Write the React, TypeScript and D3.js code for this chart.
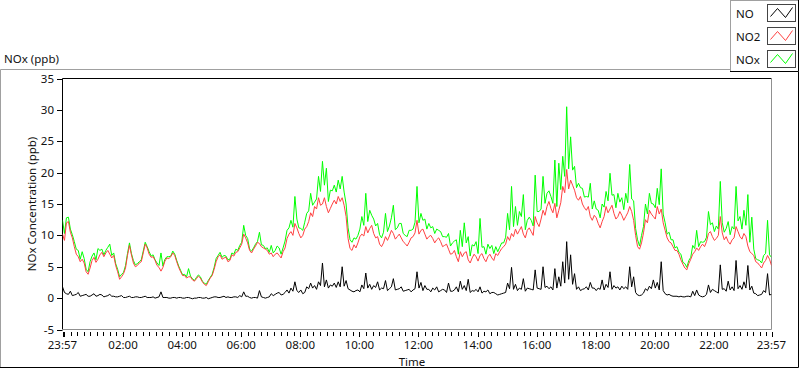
import * as d3 from 'd3';

// sampled every 4 minutes starting 23:57
const no2 = [
  10.2, 9.2, 12.0, 12.2, 10.5, 9.6, 8.2, 7.0, 6.6, 5.8,
  6.2, 5.6, 4.2, 3.8, 4.8, 6.0, 6.5, 5.7, 6.2, 6.9,
  7.3, 6.6, 7.2, 7.6, 7.0, 6.4, 6.8, 5.2, 4.2, 3.0,
  3.4, 3.9, 4.8, 6.8, 8.4, 6.9, 5.6, 5.0, 5.2, 5.6,
  5.8, 7.2, 8.6, 8.0, 7.0, 6.5, 6.6, 6.0, 5.2, 4.9,
  4.3, 4.9, 5.9, 6.4, 6.3, 6.6, 7.2, 6.8, 5.8, 4.9,
  4.2, 3.6, 3.6, 3.2, 3.4, 3.4, 2.9, 2.7, 3.1, 3.5,
  3.2, 2.6, 2.2, 2.0, 2.6, 3.2, 3.6, 4.6, 5.8, 6.6,
  6.9, 6.2, 6.4, 6.5, 5.8, 6.0, 6.9, 6.7, 7.3, 7.4,
  8.0, 8.6, 10.2, 9.6, 8.8, 7.6, 7.2, 7.8, 8.3, 8.9,
  8.7, 8.2, 8.0, 7.8, 7.6, 7.0, 7.2, 6.6, 7.0, 7.2,
  6.8, 6.4, 7.4, 8.0, 9.5, 10.2, 10.6, 10.0, 11.9, 11.2,
  10.3, 9.6, 10.0, 11.0, 11.4, 12.2, 13.6, 13.0, 14.6, 14.2,
  16.0, 14.8, 15.0, 16.0, 14.6, 13.6, 14.3, 15.0, 15.6, 15.0,
  16.2, 15.4, 16.0, 14.8, 13.0, 9.5, 7.9, 7.6, 8.5, 8.0,
  8.8, 9.8, 10.2, 9.9, 11.4, 10.4, 11.1, 11.6, 10.3, 9.6,
  9.8, 8.6, 8.2, 8.8, 9.8, 9.2, 9.9, 10.8, 10.3, 9.4,
  9.8, 10.2, 9.6, 9.0, 8.7, 8.3, 8.9, 9.6, 9.8, 10.4,
  12.4, 10.2, 10.8, 11.0, 10.2, 9.4, 9.8, 10.0, 9.5, 8.8,
  9.3, 9.6, 9.0, 8.2, 8.4, 8.6, 7.8, 7.0, 7.1, 7.6,
  6.6, 5.8, 7.4, 6.6, 7.2, 7.4, 6.1, 5.6, 6.4, 7.0,
  6.6, 5.9, 6.8, 7.1, 6.3, 5.8, 6.6, 7.0, 6.4, 6.0,
  7.1, 6.8, 7.4, 7.9, 8.2, 8.6, 9.8, 9.2, 10.3, 9.8,
  11.0, 10.2, 10.8, 11.4, 10.2, 9.6, 10.8, 11.2, 10.6, 10.0,
  13.0, 12.0, 11.4, 12.6, 14.0, 13.2, 14.6, 15.4, 14.3, 13.6,
  15.1, 12.8, 14.0, 15.2, 17.8, 16.8, 20.5, 17.4, 18.8, 18.0,
  17.2, 16.0, 15.6, 16.2, 15.0, 14.4, 14.0, 14.6, 13.0, 12.4,
  13.2, 12.8, 11.9, 11.2, 12.2, 13.0, 14.6, 13.6, 14.2, 14.8,
  13.5, 12.6, 13.0, 13.8, 13.2, 12.4, 13.0, 13.6, 14.6, 13.8,
  12.4, 10.0, 8.2, 7.8, 8.8, 10.4, 12.5, 12.0, 14.0, 13.4,
  13.0, 12.6, 14.6, 13.4, 14.2, 12.0, 10.8, 9.6, 9.0, 8.8,
  8.2, 7.6, 7.6, 7.0, 6.1, 5.4, 4.8, 4.5, 5.5, 6.2,
  7.0, 7.4, 8.0, 7.6, 8.2, 8.6, 8.2, 9.0, 10.3, 10.6,
  9.8, 9.2, 9.5, 10.0, 13.0, 10.4, 9.3, 9.8, 9.0, 8.6,
  9.3, 9.6, 11.4, 10.6, 9.8, 9.4, 10.3, 9.8, 8.3, 7.4,
  7.1, 6.8, 5.8, 5.6, 5.2, 4.8, 5.6, 6.0, 6.8, 6.2,
  5.2,
];

const nox = [
  12.4, 10.3, 12.8, 12.9, 11.0, 10.1, 9.0, 7.8, 7.6, 6.2,
  7.4, 6.3, 4.6, 4.2, 5.8, 6.7, 7.2, 6.1, 7.9, 7.6,
  7.8, 6.9, 7.6, 8.1, 8.6, 6.8, 7.2, 5.5, 4.6, 3.4,
  3.8, 4.1, 5.2, 7.1, 8.8, 7.1, 6.0, 5.3, 5.5, 5.8,
  6.1, 7.5, 8.9, 8.2, 7.4, 6.7, 6.9, 6.1, 5.6, 5.2,
  7.2, 5.1, 6.2, 6.6, 6.6, 6.7, 7.5, 7.0, 6.0, 5.1,
  4.4, 3.7, 3.8, 3.4, 4.7, 3.5, 3.1, 2.8, 3.3, 3.7,
  3.4, 2.7, 2.4, 2.2, 2.8, 3.3, 3.8, 4.9, 6.3, 6.8,
  7.3, 6.5, 6.8, 6.7, 6.1, 6.2, 7.2, 7.0, 7.8, 7.6,
  8.4, 8.9, 11.6, 10.0, 9.5, 7.8, 7.5, 8.0, 8.6, 9.0,
  10.5, 8.5, 8.4, 7.9, 8.0, 7.3, 8.4, 7.2, 7.6, 8.3,
  8.0, 7.0, 8.0, 9.1, 10.8, 11.2, 12.4, 11.3, 16.2, 12.6,
  11.2, 11.1, 10.8, 12.1, 13.5, 13.9, 16.7, 14.8, 15.3, 15.8,
  19.4, 17.0, 21.8, 18.0, 20.7, 15.4, 17.2, 17.1, 18.0, 16.9,
  18.8, 17.4, 19.4, 16.9, 15.0, 11.2, 9.3, 8.9, 9.6, 9.4,
  10.0, 11.0, 13.0, 11.6, 16.7, 12.2, 14.0, 13.2, 12.6, 11.5,
  11.9, 10.1, 9.6, 10.5, 13.5, 10.6, 11.5, 12.8, 14.8, 10.9,
  11.2, 11.9, 11.9, 10.3, 10.0, 9.8, 10.8, 10.8, 11.0, 12.1,
  17.8, 12.0, 13.5, 12.4, 12.6, 11.0, 11.9, 11.2, 11.4, 10.3,
  11.0, 10.8, 10.6, 9.8, 9.8, 9.7, 10.3, 8.3, 8.8, 9.1,
  9.3, 7.0, 10.8, 8.2, 12.0, 8.8, 9.8, 6.7, 8.5, 8.3,
  9.0, 7.1, 12.7, 8.1, 8.2, 7.0, 8.6, 7.9, 8.4, 7.1,
  8.2, 7.4, 8.1, 8.8, 8.8, 9.7, 13.5, 10.9, 17.8, 11.4,
  14.6, 11.6, 13.8, 13.0, 16.5, 10.9, 12.4, 12.9, 12.4, 11.5,
  19.6, 13.8, 13.8, 14.2, 19.4, 15.1, 16.7, 17.1, 16.2, 15.1,
  22.0, 14.6, 21.5, 17.3, 22.6, 19.4, 30.5, 20.6, 25.7, 20.4,
  21.0, 17.6, 18.3, 17.6, 17.5, 16.1, 16.2, 16.1, 18.3, 14.2,
  15.5, 14.2, 14.0, 12.8, 15.0, 14.5, 17.0, 15.5, 19.9, 16.4,
  16.5, 14.4, 16.7, 15.3, 16.0, 14.1, 16.7, 15.2, 21.3, 15.8,
  15.5, 11.1, 9.3, 8.3, 10.0, 11.4, 15.0, 13.4, 16.7, 15.1,
  15.0, 14.4, 17.5, 14.9, 20.6, 13.4, 12.0, 10.2, 10.5, 9.3,
  9.3, 8.0, 8.2, 7.3, 7.0, 5.7, 5.5, 4.9, 6.0, 6.5,
  8.4, 7.9, 10.8, 8.2, 9.0, 8.9, 9.0, 9.7, 13.8, 11.7,
  12.0, 10.6, 11.5, 11.0, 18.6, 12.0, 10.5, 11.1, 12.2, 10.1,
  11.4, 11.0, 17.8, 12.3, 13.0, 11.0, 14.0, 11.6, 16.5, 8.9,
  12.9, 7.8, 6.3, 6.1, 6.0, 5.6, 6.8, 7.1, 12.4, 6.9,
  6.5,
];

const no = [
  1.8, 0.9, 0.7, 0.6, 1.1, 0.4, 0.5, 0.6, 0.9, 0.3,
  0.4, 0.5, 0.6, 0.3, 0.3, 0.5, 0.7, 0.3, 0.4, 0.6,
  0.5, 0.2, 0.3, 0.4, 0.6, 0.3, 0.3, 0.2, 0.2, 0.3,
  0.4, 0.1, 0.1, 0.2, 0.3, 0.1, 0.1, 0.2, 0.2, 0.1,
  0.1, 0.2, 0.3, 0.1, 0.1, 0.1, 0.2, 0.0, 0.1, 0.2,
  1.0, 0.1, 0.1, 0.1, 0.0, 0.0, 0.1, 0.1, 0.0, 0.1,
  0.1, 0.0, 0.0, 0.1, 0.1, 0.0, -0.1, 0.0, 0.0, 0.1,
  0.1, 0.0, 0.0, 0.1, -0.1, 0.0, 0.1, 0.2, 0.2, 0.1,
  0.1, 0.2, 0.3, 0.1, 0.2, 0.1, 0.1, 0.2, 0.2, 0.1,
  0.4, 0.2, 1.0, 0.3, 0.3, 0.1, 0.0, 0.1, 0.1, 0.0,
  1.2, 0.2, 0.1, 0.0, 0.1, 0.2, 0.7, 0.4, 0.6, 0.8,
  0.9, 0.5, 0.6, 0.9, 1.3, 0.8, 1.6, 1.1, 2.6, 1.2,
  0.9, 1.3, 0.7, 0.9, 1.8, 1.5, 2.4, 1.6, 2.0, 1.4,
  2.6, 2.0, 5.6, 1.8, 2.9, 1.6, 2.1, 1.9, 2.4, 1.7,
  2.6, 1.8, 5.0, 1.9, 2.8, 1.5, 1.3, 1.1, 1.0, 1.2,
  1.3, 1.0, 2.1, 1.5, 4.0, 1.6, 2.2, 1.4, 2.0, 1.7,
  2.6, 1.3, 1.6, 1.5, 2.8, 1.2, 1.5, 1.8, 3.1, 1.3,
  1.4, 1.5, 1.8, 1.1, 1.2, 1.3, 1.4, 1.0, 1.3, 1.5,
  4.2, 1.6, 2.5, 1.2, 2.0, 1.4, 1.4, 1.0, 1.6, 1.3,
  1.8, 1.0, 1.2, 1.4, 1.3, 0.9, 2.4, 1.1, 1.1, 1.3,
  1.8, 1.0, 2.7, 1.4, 2.0, 1.2, 3.0, 0.9, 1.2, 1.1,
  1.4, 1.0, 1.8, 0.8, 1.1, 1.0, 1.3, 0.7, 0.9, 0.9,
  0.7, 0.5, 0.6, 0.7, 0.8, 0.9, 2.4, 1.5, 4.9, 1.4,
  2.2, 1.2, 1.6, 1.4, 3.1, 1.1, 1.6, 1.5, 1.4, 1.3,
  4.5, 1.6, 1.5, 1.4, 5.0, 1.7, 1.9, 1.5, 1.8, 1.3,
  4.7, 1.6, 3.4, 1.9, 5.8, 2.4, 9.0, 3.0, 6.9, 2.2,
  3.9, 1.4, 1.8, 1.2, 1.4, 1.5, 1.8, 1.3, 2.5, 1.6,
  1.6, 1.2, 1.6, 1.4, 2.9, 1.3, 2.2, 1.7, 4.2, 1.4,
  2.0, 1.6, 1.8, 1.3, 1.9, 1.5, 1.8, 1.4, 5.0, 1.8,
  3.4, 0.9, 0.5, 0.4, 0.5, 0.8, 1.5, 1.2, 1.9, 1.5,
  2.9, 1.6, 2.5, 1.3, 5.8, 1.2, 0.7, 0.5, 0.6, 0.4,
  0.3, 0.3, 0.3, 0.2, 0.3, 0.2, 0.2, 0.3, 0.3, 0.2,
  1.1, 0.4, 1.3, 0.5, 0.3, 0.2, 0.3, 0.6, 2.1, 0.9,
  1.4, 1.2, 1.0, 0.8, 5.3, 1.4, 1.5, 1.1, 2.7, 1.3,
  1.8, 1.2, 6.0, 1.5, 2.0, 1.4, 2.6, 1.6, 5.2, 1.3,
  1.9, 0.8, 0.7, 0.4, 0.5, 0.6, 1.2, 0.9, 3.9, 0.5,
  0.6,
];

const startHour = -0.05; // 23:57 the day before
const stepHours = 4 / 60;
const endHour = 23.95;

const yTicks = [-5, 0, 5, 10, 15, 20, 25, 30, 35];
const xTickHours = [-0.05, 2, 4, 6, 8, 10, 12, 14, 16, 18, 20, 22, 23.95];
const xTickLabels = ['23:57', '02:00', '04:00', '06:00', '08:00', '10:00', '12:00', '14:00', '16:00', '18:00', '20:00', '22:00', '23:57'];

const legendItems = [
  { name: 'NO', color: '#000000' },
  { name: 'NO2', color: '#ff4040' },
  { name: 'NOx', color: '#00ff00' },
];

const font = "'Noto Sans', sans-serif";

export default function App() {
  const left = 62.5, right = 771.5, top = 78.5, bottom = 329.5;

  const x = d3.scaleLinear().domain([startHour, endHour]).range([left, right]);
  const y = d3.scaleLinear().domain([-5, 35]).range([bottom, top]);

  const line = d3.line<number>()
    .x((_, i) => x(startHour + i * stepHours))
    .y(d => y(d));

  // majors every 2h, minors every 2h/9
  const minorTicks: number[] = [];
  for (let i = 1; i < 12 * 9; i++) {
    const h = (i * 2) / 9;
    if (i % 9 !== 0 && h < endHour) minorTicks.push(h);
  }

  return (
    <svg width={800} height={369} style={{ position: 'absolute', left: 0, top: 0, fontFamily: font }}>
      <rect width={800} height={369} fill="#fff" />

      {/* outer panel */}
      <path d="M0.5,368 V69.5 H730" fill="none" stroke="#a0a0a0" />
      <path d="M0,367.5 H798.5 V72" fill="none" stroke="#000" />
      <text x={4} y={63} fontSize={11.5} fill="#111">NOx (ppb)</text>

      {/* legend */}
      <g>
        <rect x={730.5} y={0.5} width={68} height={71} fill="#fff" stroke="#a0a0a0" />
        <path d="M730,71.5 H798.5 V0" fill="none" stroke="#000" />
        {legendItems.map((it, i) => {
          const by = 4.5 + i * 23;
          const bx = 767.5;
          return (
            <g key={it.name}>
              <text x={736} y={by + 13} fontSize={11.5} fill="#111">{it.name}</text>
              <rect x={bx} y={by} width={28} height={17} fill="#fff" stroke="#444" />
              <polyline
                points={`${bx + 3},${by + 12} ${bx + 10},${by + 4} ${bx + 18},${by + 13} ${bx + 25},${by + 3}`}
                fill="none" stroke={it.color} strokeWidth={1}
              />
            </g>
          );
        })}
      </g>

      {/* plot frame */}
      <path d={`M${left},${bottom} V${top} H${right}`} fill="none" stroke="#000" />
      <path d={`M${right},${top} V${bottom} H${left}`} fill="none" stroke="#909090" />

      {/* data */}
      <defs>
        <clipPath id="plotClip">
          <rect x={left} y={top} width={right - left} height={bottom - top} />
        </clipPath>
      </defs>
      <g clipPath="url(#plotClip)">
        <path d={line(nox) ?? ''} fill="none" stroke="#00ff00" strokeWidth={1} />
        <path d={line(no2) ?? ''} fill="none" stroke="#ff4040" strokeWidth={1} />
        <path d={line(no) ?? ''} fill="none" stroke="#000" strokeWidth={1} />
      </g>

      {/* y axis */}
      {yTicks.map(t => (
        <g key={t}>
          <line x1={57} x2={left} y1={Math.round(y(t)) + 0.5} y2={Math.round(y(t)) + 0.5} stroke="#000" />
          <text x={54} y={y(t) + 4} fontSize={11.5} textAnchor="end" fill="#111">{t}</text>
        </g>
      ))}
      <text
        transform={`translate(35.5,${(top + bottom) / 2}) rotate(-90)`}
        fontSize={11.5} textAnchor="middle" fill="#111"
      >NOx Concentration (ppb)</text>

      {/* x axis */}
      {minorTicks.map(h => (
        <line key={h} x1={Math.round(x(h)) + 0.5} x2={Math.round(x(h)) + 0.5} y1={332} y2={336} stroke="#000" />
      ))}
      <line x1={Math.round(x(0)) + 0.5} x2={Math.round(x(0)) + 0.5} y1={332} y2={337} stroke="#000" />
      {xTickHours.map((h, i) => (
        <g key={i}>
          <line x1={Math.round(x(h)) + 0.5} x2={Math.round(x(h)) + 0.5} y1={332} y2={337} stroke="#000" />
          <text x={x(h)} y={349} fontSize={11.5} textAnchor="middle" fill="#111">{xTickLabels[i]}</text>
        </g>
      ))}
      <text x={412} y={365.5} fontSize={11.5} textAnchor="middle" fill="#111">Time</text>
    </svg>
  );
}
